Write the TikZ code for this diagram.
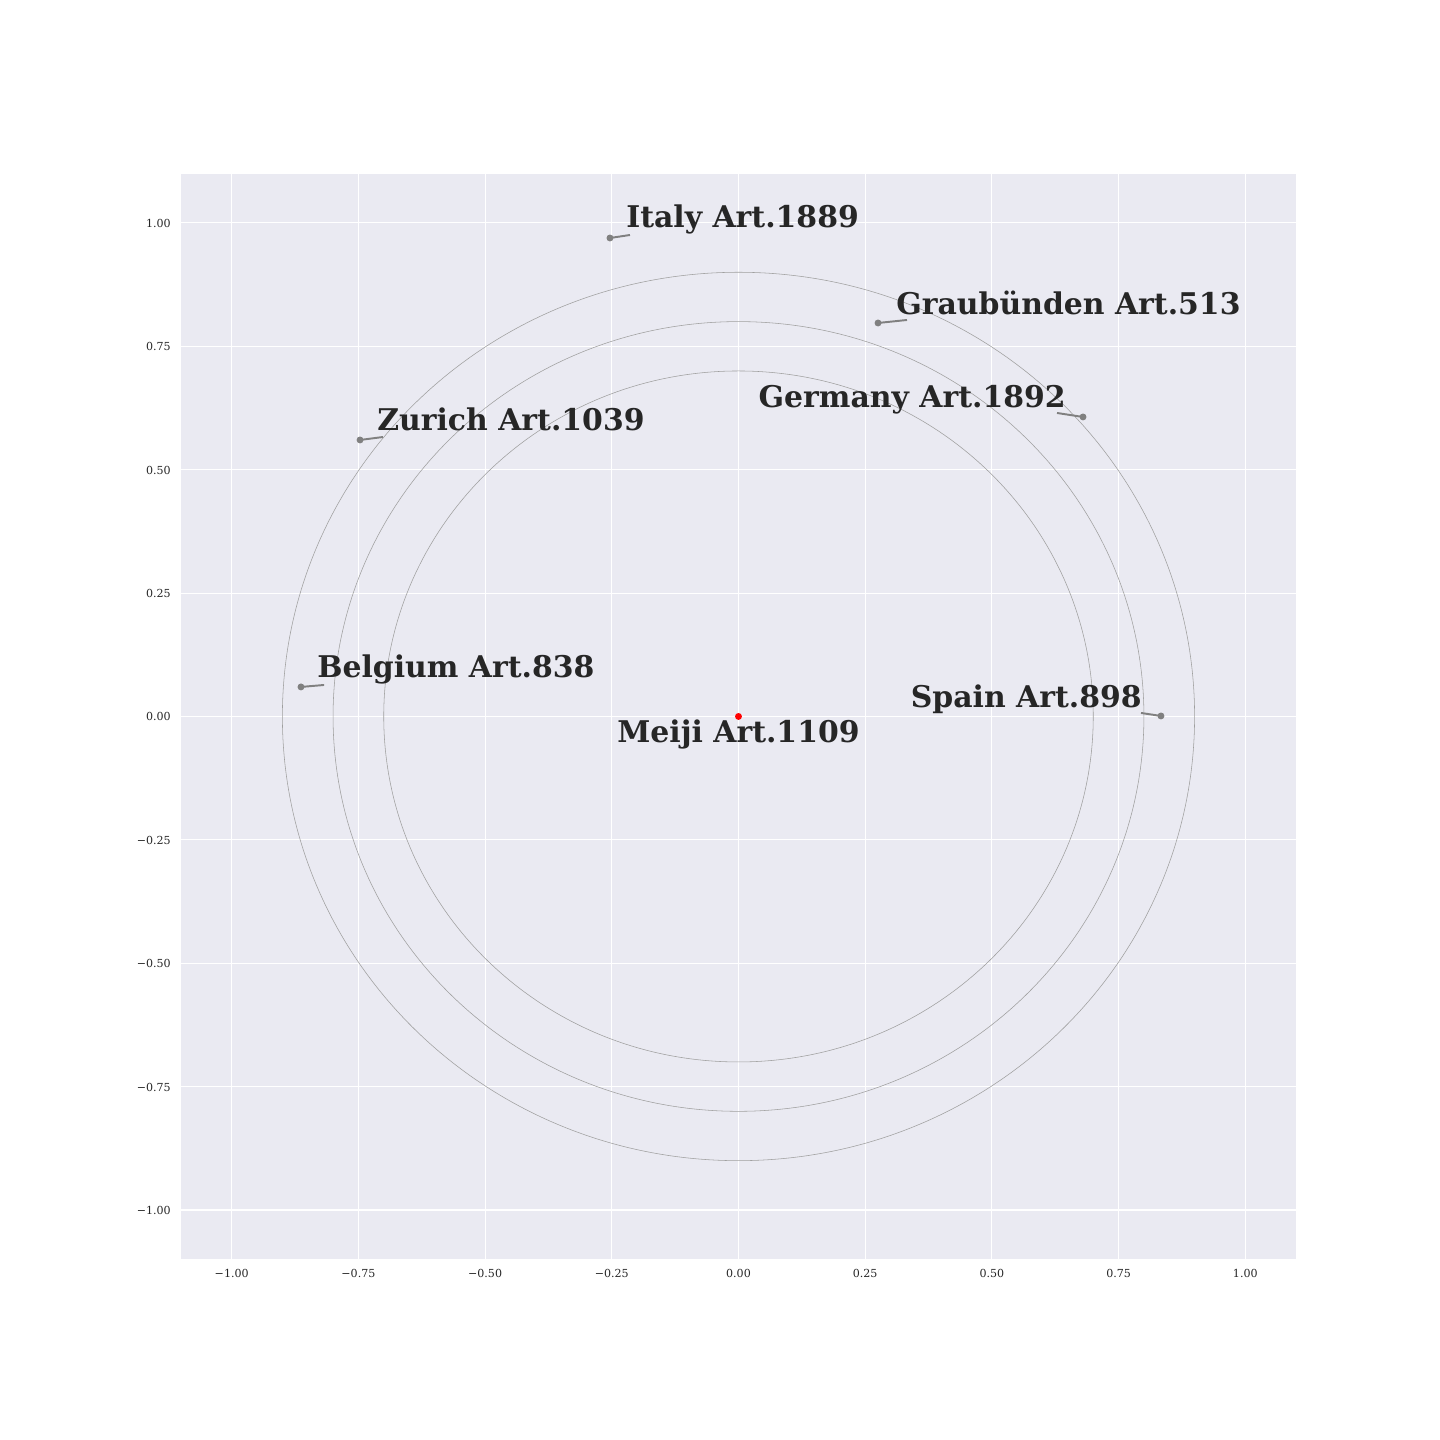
\documentclass[tikz,border=0pt]{standalone}
\usepackage{fontspec}
\setmainfont{DejaVu Serif}
\definecolor{axbg}{HTML}{EAEAF2}
\definecolor{txt}{HTML}{262626}
\tikzset{
  lbl/.style={font=\fontsize{21.6}{26}\selectfont\bfseries, text=txt, inner sep=0pt},
  ticklbl/.style={font=\fontsize{8}{10}\selectfont, text=txt, inner sep=0pt},
  pinline/.style={draw=gray, line width=1.4pt},
  ring/.style={draw=gray!75, line width=0.4pt},
  gridline/.style={draw=white, line width=0.8pt},
}
\newcommand\dotr{2.5pt}

\begin{document}
\begin{tikzpicture}[x=12.873cm,y=12.537cm]
\useasboundingbox (-1.4572,-1.4658) rectangle (1.3842,1.4516);
\fill[axbg] (-1.1,-1.1) rectangle (1.1,1.1);
% grid and ticks
\foreach\t/\s [count=\i] in{-1/−1.00,-0.75/−0.75,-0.5/−0.50,-0.25/−0.25,0/0.00,0.25/0.25,0.5/0.50,0.75/0.75,1/1.00}{
  \draw[gridline] (\t,-1.1)--(\t,1.1);
  \draw[gridline] (-1.1,\t)--(1.1,\t);
  \node[ticklbl, anchor=base] (xt\i) at (\t,-1.1376) {\s};
  \node[ticklbl, anchor=base east] (yt\i) at (-1.1198,\t-0.0091) {\s};
}
% rings
\foreach\r in{0.7,0.8,0.9} \draw[ring] (0,0) ellipse[x radius=\r, y radius=\r];
% points
\coordinate (meiji) at (0,0);
\coordinate (italy) at (-0.2536,0.9694);
\coordinate (graub) at (0.2753,0.7972);
\coordinate (germany) at (0.6798,0.6068);
\coordinate (zurich) at (-0.7468,0.5602);
\coordinate (belgium) at (-0.8633,0.0598);
\coordinate (spain) at (0.8336,0.0010);
% line ends
\coordinate (italyend) at (-0.2141,0.9755);
\coordinate (graubend) at (0.3325,0.8033);
\coordinate (germanyend) at (0.6285,0.6149);
\coordinate (zurichend) at (-0.7015,0.5662);
\coordinate (belgiumend) at (-0.8177,0.0638);
\coordinate (spainend) at (0.7942,0.0071);
\foreach\p in{italy,graub,germany,zurich,belgium,spain}{
  \draw[pinline] (\p)--(\p end);
  \fill[gray] (\p) circle(\dotr);
}
\fill[red] (meiji) circle(\dotr);
% labels
\node[lbl, anchor=base west] (italylbl) at (-0.2220,0.9897) {Italy Art.1889};
\node[lbl, anchor=base west] (graublbl) at (0.3108,0.8154) {Graubünden Art.513};
\node[lbl, anchor=base east] (germanylbl) at (0.6462,0.6250) {Germany Art.1892};
\node[lbl, anchor=base west] (zurichlbl) at (-0.7133,0.5784) {Zurich Art.1039};
\node[lbl, anchor=base west] (belgiumlbl) at (-0.8317,0.0780) {Belgium Art.838};
\node[lbl, anchor=base] (meijilbl) at (0,-0.0537) {Meiji Art.1109};
\node[lbl, anchor=base east] (spainlbl) at (0.7962,0.0172) {Spain Art.898};
\end{tikzpicture}
\end{document}
